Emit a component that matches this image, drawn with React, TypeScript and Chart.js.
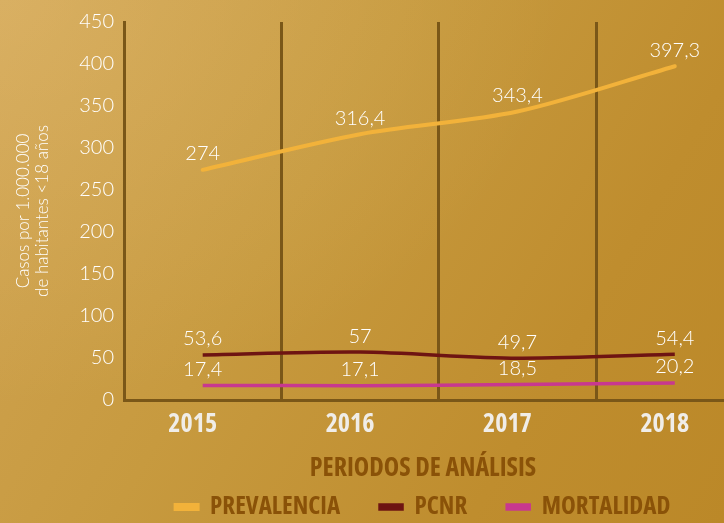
import React, { useEffect, useRef } from "react";
import { Chart, registerables } from "chart.js";

Chart.register(...registerables);

const years = ["2015", "2016", "2017", "2018"];
const prevalencia = [274, 316.4, 343.4, 397.3];
const pcnr = [53.6, 57, 49.7, 54.4];
const mortalidad = [17.4, 17.1, 18.5, 20.2];
const yTicks = [0, 50, 100, 150, 200, 250, 300, 350, 400, 450];

const fmt = (v: number) => String(v).replace(".", ",");

const LIGHT = "Lato, 'Open Sans', sans-serif";
const OSC = "'Open Sans', sans-serif";
const BROWN = "#8a5208";
const GRID = "#7a5718";

const labelsPlugin = {
  id: "pointLabels",
  afterDatasetsDraw(chart: any) {
    const ctx = chart.ctx;
    ctx.save();
    ctx.fillStyle = "#ffffff";
    ctx.font = `300 20px ${LIGHT}`;
    ctx.textAlign = "center";
    ctx.textBaseline = "middle";
    chart.data.datasets.forEach((ds: any, i: number) => {
      const meta = chart.getDatasetMeta(i);
      meta.data.forEach((pt: any, j: number) => {
        ctx.fillText(fmt(ds.data[j].y), pt.x, pt.y - 16);
      });
    });
    ctx.restore();
  },
};

export default function App() {
  const ref = useRef<HTMLCanvasElement>(null);
  useEffect(() => {
    document.body.style.margin = "0";
    const toXY = (arr: number[]) => arr.map((v, i) => ({ x: i, y: v }));
    const chart = new Chart(ref.current!, {
      type: "line",
      data: {
        datasets: [
          {
            label: "PREVALENCIA",
            data: toXY(prevalencia),
            borderColor: "#f2b23a",
            backgroundColor: "#f2b23a",
            borderWidth: 4,
            pointRadius: 0,
            tension: 0.3,
            borderCapStyle: "round",
          },
          {
            label: "PCNR",
            data: toXY(pcnr),
            borderColor: "#6e1412",
            backgroundColor: "#6e1412",
            borderWidth: 3.5,
            pointRadius: 0,
            tension: 0.3,
          },
          {
            label: "MORTALIDAD",
            data: toXY(mortalidad),
            borderColor: "#c8388f",
            backgroundColor: "#c8388f",
            borderWidth: 3.5,
            pointRadius: 0,
            tension: 0.3,
          },
        ],
      },
      options: {
        animation: false,
        responsive: false,
        layout: { padding: { top: 3, right: 2, left: 14, bottom: -6.5 } },
        plugins: {
          tooltip: { enabled: false },
          legend: {
            position: "bottom",
            fullSize: false,
            labels: {
              boxWidth: 22,
              boxHeight: 4,
              padding: 40,
              color: BROWN,
              font: { family: OSC, size: 25, weight: "bold condensed" },
            },
          },
        },
        scales: {
          x: {
            type: "linear",
            min: -0.5,
            max: 3.3,
            afterBuildTicks(axis: any) {
              const t: any[] = [];
              for (let i = -0.5; i <= 3; i += 0.5) t.push({ value: i });
              axis.ticks = t;
            },
            afterFit(axis: any) {
              axis.height = 54.5;
            },
            ticks: {
              autoSkip: false,
              maxRotation: 0,
              labelOffset: -10,
              padding: 9,
              color: "#f0ede8",
              font: { family: OSC, size: 26, weight: "bold condensed" },
              callback: (v: any) => (Number.isInteger(v) ? years[v] : ""),
            },
            grid: {
              drawTicks: false,
              lineWidth: 3,
              color: (c: any) =>
                c.tick && !Number.isInteger(c.tick.value) && c.tick.value > -0.5 ? GRID : "rgba(0,0,0,0)",
            },
            border: { display: true, color: GRID, width: 3 },
            title: {
              display: true,
              text: "PERIODOS DE ANÁLISIS",
              color: BROWN,
              font: { family: OSC, size: 26, weight: "bold condensed" },
              padding: { top: 0, bottom: -30 },
            },
          },
          y: {
            min: 0,
            max: 450,
            afterBuildTicks(axis: any) {
              axis.ticks = yTicks.map((v) => ({ value: v }));
            },
            afterFit(axis: any) {
              axis.width = 110;
            },
            ticks: {
              color: "#ffffff",
              padding: 10,
              font: { family: LIGHT, size: 20, weight: 300 },
            },
            grid: { display: false, drawTicks: false },
            border: { display: true, color: GRID, width: 3 },
            title: {
              display: true,
              text: ["Casos por 1.000.000", "de habitantes <18 años"],
              color: "#ffffff",
              font: { family: LIGHT, size: 17, weight: 300, lineHeight: 1.1 },
              padding: 0,
            },
          },
        },
      } as any,
      plugins: [labelsPlugin],
    });
    return () => chart.destroy();
  }, []);
  return (
    <div
      style={{
        position: "absolute",
        left: 0,
        top: 0,
        width: 724,
        height: 523,
        background:
          "radial-gradient(ellipse at 0% 0%, rgba(255,230,170,0.18) 0%, rgba(255,230,170,0) 55%), linear-gradient(120deg, #d1a453 0%, #c79a3f 40%, #bf8d2e 75%, #bb8828 100%)",
      }}
    >
      <canvas ref={ref} width={724} height={523} style={{ display: "block" }} />
    </div>
  );
}
